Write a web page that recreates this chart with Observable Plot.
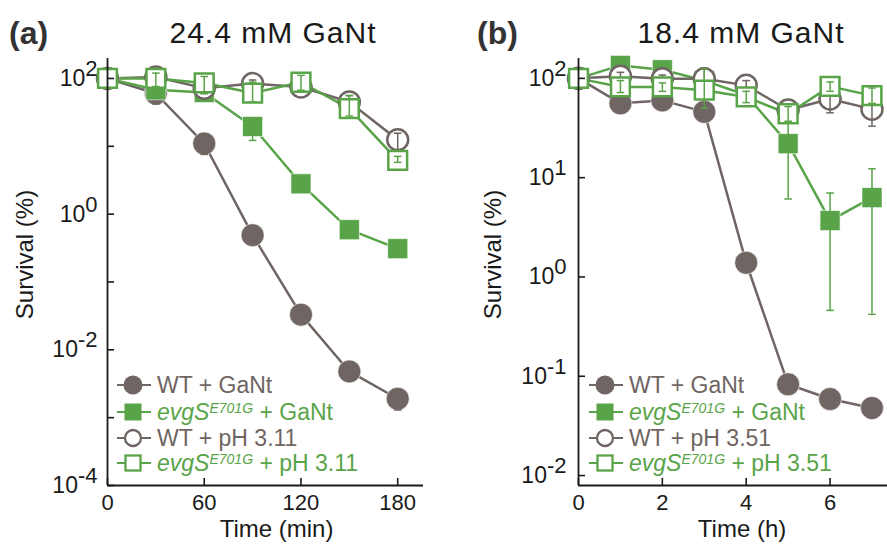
<!DOCTYPE html>
<html><head><meta charset="utf-8">
<script src="https://cdn.jsdelivr.net/npm/d3@7"></script>
<script src="https://cdn.jsdelivr.net/npm/@observablehq/plot@0.6"></script>
<style>
body{margin:0;background:#fff;font-family:"Liberation Sans",Arial,sans-serif;}
#wrap{position:relative;width:887px;height:550px;overflow:hidden;}
#wrap svg.panel{position:absolute;top:0;}
.lbl{position:absolute;white-space:nowrap;line-height:1;}
.leg{position:absolute;display:flex;align-items:center;height:24px;white-space:nowrap;font-size:23px;line-height:1;}
.leg svg{flex:none;margin-right:6px;}
.sup{font-size:14px;vertical-align:7px;font-style:italic;}
</style></head><body><div id="wrap"></div>
<script>
const GRAY = "#6f6562", GREEN = "#59a449", INK = "#1a1a1a";

// ---------- Panel (a): 24.4 mM GaNt ----------
const timeMin = [0, 30, 60, 90, 120, 150, 180];
const aWtGaNt   = [100, 60, 11, 0.49, 0.033, 0.0048, 0.0019];
const aWtGaNtLo = [null, 42, 7.6, 0.42, 0.029, 0.0042, 0.0013];
const aWtGaNtHi = [null, 80, 15, 0.58, 0.038, 0.0055, 0.0025];
const aEvgGaNt   = [100, 68, 62, 19.6, 2.8, 0.59, 0.31];
const aEvgGaNtLo = [null, 55, 52, 12.2, 2.4, 0.51, 0.27];
const aEvgGaNtHi = [null, 82, 74, 26, 3.3, 0.68, 0.36];
const aWtPh   = [100, 105, 72, 84, 75, 45, 12.5];
const aWtPhLo = [null, 92, 60, 66, 66, 30, 8.7];
const aWtPhHi = [null, 118, 86, 95, 86, 56, 15.6];
const aEvgPh   = [100, 100, 86, 61, 88, 36, 6.2];
const aEvgPhLo = [null, 76, 60, 45, 67, 28, 5.8];
const aEvgPhHi = [null, 120, 107, 88, 111, 56, 7.1];
const aYTicks = [1e2, 1e1, 1e0, 1e-1, 1e-2, 1e-3, 1e-4];
const aYLabels = [1e2, 1e0, 1e-2, 1e-4];
const aXTicks = [0, 60, 120, 180];

// ---------- Panel (b): 18.4 mM GaNt ----------
const timeH = [0, 1, 2, 3, 4, 5, 6, 7];
const bWtGaNt   = [100, 56, 60, 46, 1.39, 0.083, 0.059, 0.048];
const bWtGaNtLo = [null, 50, 54, 40, 1.25, 0.075, 0.053, 0.038];
const bWtGaNtHi = [null, 62, 66, 52, 1.55, 0.091, 0.065, 0.056];
const bEvgGaNt   = [100, 135, 122, 95, 68, 22, 3.7, 6.3];
const bEvgGaNtLo = [null, 120, 110, 85, 60, 6.1, 0.46, 0.42];
const bEvgGaNtHi = [null, 150, 135, 105, 76, 36, 7.0, 12.3];
const bWtPh   = [100, 105, 99, 99, 85, 48, 62, 49];
const bWtPhLo = [null, 88, 90, 85, 75, 42, 45, 33];
const bWtPhHi = [null, 115, 108, 126, 95, 55, 75, 62];
const bEvgPh   = [100, 82, 82, 76, 65, 44, 83, 67];
const bEvgPhLo = [null, 72, 74, 50, 57, 37, 74, 56];
const bEvgPhHi = [null, 95, 90, 124, 74, 52, 92, 80];
const bYTicks = [1e2, 1e1, 1e0, 1e-1, 1e-2];
const bXTicks = [0, 2, 4, 6];

function rows(t, v, lo, hi) { return t.map((x, i) => ({t: x, v: v[i], lo: lo[i], hi: hi[i]})); }

const capSymbol = {draw(ctx, size) { const w = Math.sqrt(size / Math.PI); ctx.moveTo(-w, 0); ctx.lineTo(w, 0); }};

const styles = [
  {color: GRAY, symbol: "circle", fill: GRAY, r: 11.5, sw: 0.6, stroke: "white"},
  {color: GREEN, symbol: "square", fill: GREEN, r: 11.3, sw: 0.6, stroke: "white"},
  {color: GRAY, symbol: "circle", fill: "white", r: 10.5, sw: 2.5, stroke: GRAY},
  {color: GREEN, symbol: "square", fill: "white", r: 10.6, sw: 2.5, stroke: GREEN}
];

function supTicks(svg) {
  d3.select(svg).selectAll("text").each(function() {
    const m = /^10\^(-?\d+)$/.exec(this.textContent);
    if (m) {
      const s = d3.select(this);
      s.text("10");
      s.append("tspan").attr("dy", "-0.45em").attr("font-size", "22px").text(m[1]);
    }
  });
}

function panel(o) {
  const plotW = o.width - o.marginLeft - o.marginRight;
  const plotH = o.height - o.marginTop - o.marginBottom;
  const marks = [];
  o.series.forEach((s) => {
    marks.push(Plot.line(s.data, {x: "t", y: "v", stroke: s.st.color, strokeWidth: 2.5}));
  });
  o.series.forEach((s) => {
    const st = s.st;
    const err = s.data.filter(d => d.lo != null);
    marks.push(Plot.dot(s.data, {x: "t", y: "v", symbol: st.symbol, r: st.r, fill: st.fill, stroke: st.stroke, strokeWidth: st.sw}));
    marks.push(Plot.ruleX(err, {x: "t", y1: "lo", y2: "hi", stroke: st.color, strokeWidth: 1.5}));
    marks.push(Plot.dot(err, {x: "t", y: "lo", symbol: capSymbol, r: 3.8, fill: "none", stroke: st.color, strokeWidth: 1.5}));
    marks.push(Plot.dot(err, {x: "t", y: "hi", symbol: capSymbol, r: 3.8, fill: "none", stroke: st.color, strokeWidth: 1.5}));
  });
  marks.push(
    Plot.ruleX([o.xDomain[0]], {stroke: INK, strokeWidth: 1.8}),
    Plot.ruleY([o.yDomain[0]], {stroke: INK, strokeWidth: 1.8}),
    Plot.tickY(o.yTicks, {y: d => d, stroke: INK, strokeWidth: 1.6, insetRight: plotW - 7}),
    Plot.tickX(o.xTicks, {x: d => d, stroke: INK, strokeWidth: 1.6, insetTop: plotH - 7}),
    Plot.axisY(o.yLabels, {anchor: "left", tickSize: 0, tickPadding: o.yPad, fontSize: 23, label: null,
      tickFormat: d => "10^" + Math.round(Math.log10(d))}),
    Plot.axisX(o.xTicks, {anchor: "bottom", tickSize: 0, tickPadding: 9, fontSize: 22, label: null}),
    Plot.text(["Survival (%)"], {frameAnchor: "left", rotate: -90, dx: o.yLabDx, dy: -17.5, fontSize: 24, fill: INK, textAnchor: "middle", lineAnchor: "middle"}),
    Plot.text([o.xLabel], {frameAnchor: "bottom", dx: o.xLabDx, dy: 44, fontSize: 24, fill: INK, textAnchor: "middle", lineAnchor: "middle"})
  );
  const svg = Plot.plot({
    width: o.width, height: o.height,
    marginLeft: o.marginLeft, marginRight: o.marginRight, marginTop: o.marginTop, marginBottom: o.marginBottom,
    x: {type: "linear", domain: o.xDomain},
    y: {type: "log", domain: o.yDomain},
    style: {fontFamily: '"Liberation Sans", Arial, sans-serif', color: INK, background: "transparent", overflow: "visible"},
    marks
  });
  svg.classList.add("panel");
  svg.style.left = o.left + "px";
  supTicks(svg);
  return svg;
}

const wrap = document.getElementById("wrap");

wrap.appendChild(panel({
  left: 0, width: 440, height: 550, marginLeft: 107, marginRight: 17, marginTop: 58, marginBottom: 65,
  xDomain: [0, 196], yDomain: [1e-4, 197], yTicks: aYTicks, yLabels: aYLabels, xTicks: aXTicks,
  yPad: 10, yLabDx: -82, xLabDx: 11, xLabel: "Time (min)",
  series: [
    {data: rows(timeMin, aWtGaNt, aWtGaNtLo, aWtGaNtHi), st: styles[0]},
    {data: rows(timeMin, aEvgGaNt, aEvgGaNtLo, aEvgGaNtHi), st: styles[1]},
    {data: rows(timeMin, aWtPh, aWtPhLo, aWtPhHi), st: styles[2]},
    {data: rows(timeMin, aEvgPh, aEvgPhLo, aEvgPhHi), st: styles[3]}
  ]
}));

wrap.appendChild(panel({
  left: 440, width: 447, height: 550, marginLeft: 138, marginRight: 0, marginTop: 58, marginBottom: 65,
  xDomain: [0, 7.37], yDomain: [0.00794, 158.5], yTicks: bYTicks, yLabels: bYTicks, xTicks: bXTicks,
  yPad: 12, yLabDx: -85, xLabDx: 9, xLabel: "Time (h)",
  series: [
    {data: rows(timeH, bWtGaNt, bWtGaNtLo, bWtGaNtHi), st: styles[0]},
    {data: rows(timeH, bEvgGaNt, bEvgGaNtLo, bEvgGaNtHi), st: styles[1]},
    {data: rows(timeH, bWtPh, bWtPhLo, bWtPhHi), st: styles[2]},
    {data: rows(timeH, bEvgPh, bEvgPhLo, bEvgPhHi), st: styles[3]}
  ]
}));

// titles
function label(html, left, top, css) {
  const d = document.createElement("div");
  d.className = "lbl"; d.innerHTML = html;
  d.style.left = left + "px"; d.style.top = top + "px";
  Object.assign(d.style, css || {});
  wrap.appendChild(d);
}
const panelLetters = ["(a)", "(b)"];
const panelTitles = ["24.4 mM GaNt", "18.4 mM GaNt"];
label(panelLetters[0], 9, 17, {fontSize: "32px", fontWeight: "bold", color: "#333"});
label(panelLetters[1], 477, 17, {fontSize: "32px", fontWeight: "bold", color: "#333"});
label(panelTitles[0], 273, 18, {fontSize: "30px", letterSpacing: "1px", color: INK, transform: "translateX(-50%)"});
label(panelTitles[1], 741, 18, {fontSize: "30px", letterSpacing: "1px", color: INK, transform: "translateX(-50%)"});

// legends
const legendLabelsA = ["WT + GaNt", "<i>evgS</i><span class='sup'>E701G</span> + GaNt", "WT + pH 3.11", "<i>evgS</i><span class='sup'>E701G</span> + pH 3.11"];
const legendLabelsB = ["WT + GaNt", "<i>evgS</i><span class='sup'>E701G</span> + GaNt", "WT + pH 3.51", "<i>evgS</i><span class='sup'>E701G</span> + pH 3.51"];
const legendRows = [385, 412, 438, 463];
function symbolSvg(st) {
  let shape;
  if (st.symbol === "circle") {
    shape = st.fill === "white"
      ? `<circle cx="16" cy="12" r="8" fill="white" stroke="${st.color}" stroke-width="2.3"/>`
      : `<circle cx="16" cy="12" r="9.5" fill="${st.color}"/>`;
  } else {
    shape = st.fill === "white"
      ? `<rect x="8.5" y="4.5" width="15" height="15" fill="white" stroke="${st.color}" stroke-width="2.3"/>`
      : `<rect x="7.5" y="3.5" width="17" height="17" fill="${st.color}"/>`;
  }
  return `<svg width="34" height="24"><line x1="0" y1="12" x2="34" y2="12" stroke="${st.color}" stroke-width="2.2"/>${shape}</svg>`;
}
function legend(labels, left) {
  labels.forEach((lab, i) => {
    const d = document.createElement("div");
    d.className = "leg";
    d.style.left = left + "px"; d.style.top = (legendRows[i] - 12) + "px";
    d.style.color = styles[i].color;
    d.innerHTML = symbolSvg(styles[i]) + `<span>${lab}</span>`;
    wrap.appendChild(d);
  });
}
legend(legendLabelsA, 117);
legend(legendLabelsB, 589);
</script></body></html>
